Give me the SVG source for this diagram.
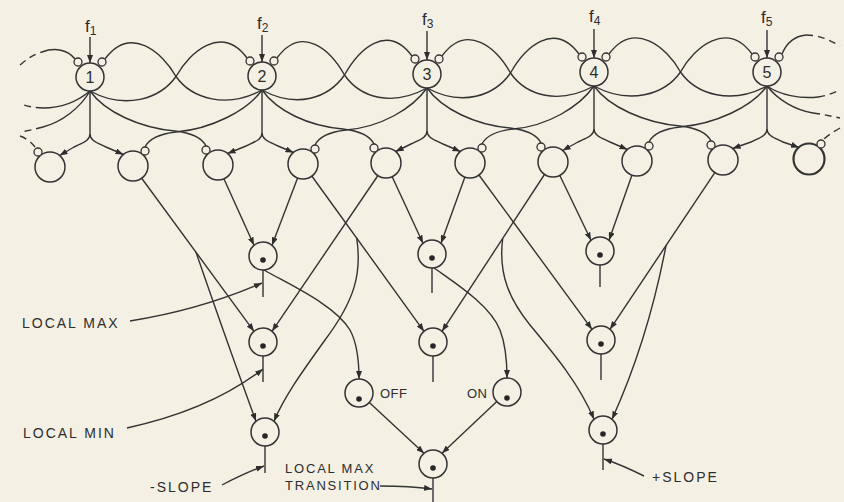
<svg xmlns="http://www.w3.org/2000/svg" width="844" height="502" viewBox="0 0 844 502">
<defs>
<marker id="ah" viewBox="0 0 8 6" refX="8" refY="3" markerWidth="8" markerHeight="6" markerUnits="userSpaceOnUse" orient="auto"><path d="M0,0 L8,3 L0,6 z" fill="#2e2e2e"/></marker>
<style>
.ln{fill:none;stroke:#333;stroke-width:1.4}
.ar{marker-end:url(#ah)}
.da{stroke-dasharray:7 5}
.nd{fill:#f4f0e4;stroke:#333;stroke-width:1.5}
.sm{fill:#f4f0e4;stroke:#333;stroke-width:1.3}
.dot{fill:#262626}
text{font-family:"Liberation Sans",Arial,sans-serif;fill:#2d2d2d}
.num{font-size:16px;text-anchor:middle}
.f{font-size:17px}
.sub{font-size:12px}
.lbl{font-size:14px;letter-spacing:2px}
.lbs{font-size:13px;letter-spacing:1.8px}
.on{font-size:13px;letter-spacing:0.5px}
</style>
</defs>
<rect width="844" height="502" fill="#f4f0e4"/>

<g id="connectors">
<!-- f inputs -->
<path class="ln ar" d="M90,37 V63"/>
<path class="ln ar" d="M262,35 V62"/>
<path class="ln ar" d="M427,31 V60"/>
<path class="ln ar" d="M594,29 V58"/>
<path class="ln ar" d="M767,30 V58"/>

<!-- lateral loops between top nodes -->
<path class="ln" d="M90,91 C125,110 160,99 176,76.5 C190,51.5 222,24 247,58"/>
<path class="ln" d="M262,90 C227,109 192,99 176,76.5 C162,51.5 130,25 105,59"/>
<path class="ln" d="M262,90 C297,109 328.5,98 344.5,75 C358.5,50 387,22 412,56"/>
<path class="ln" d="M427,88 C392,107 360.5,98 344.5,75 C330.5,50 302,24 277,58"/>
<path class="ln" d="M427,88 C462,107 494.5,96 510.5,73 C524.5,48 554,20 579,54"/>
<path class="ln" d="M594,86 C559,105 526.5,96 510.5,73 C496.5,48 467,22 442,56"/>
<path class="ln" d="M594,86 C629,105 664.5,95 680.5,72 C694.5,47 727,20 752,54"/>
<path class="ln" d="M767,86 C732,105 696.5,95 680.5,72 C666.5,47 634,20 609,54"/>

<!-- inhibitory crossings to second row -->
<path class="ln" d="M90,91 C105,112 140,128 175,131 C192,133 202,138 206,146"/>
<path class="ln" d="M262,90 C247,111 211,129 176,132 C159,134 149,139 145,147"/>
<path class="ln" d="M262,90 C277,111 308,126 343,129 C360,131 370,136 374,144"/>
<path class="ln" d="M427,88 C412,109 381,127 346,130 C329,132 319,137 315,145"/>
<path class="ln" d="M427,88 C442,109 475,125 510,128 C527,130 537,135 541,143"/>
<path class="ln" d="M594,86 C579,107 548,126 513,129 C496,131 486,136 482,144"/>
<path class="ln" d="M594,86 C609,107 645,123 680,126 C697,128 707,133 711,141"/>
<path class="ln" d="M767,86 C752,107 715,124 680,127 C663,129 653,134 649,142"/>

<!-- left edge -->
<path class="ln" d="M42,52 C55,47 68,50 75,59"/>
<path class="ln da" d="M20,65 C27,59 34,54 42,52"/>
<path class="ln" d="M90,91 C78,101 62,108 43,108"/>
<path class="ln da" d="M43,108 C34,108 27,106 20,104"/>
<path class="ln" d="M90,91 C80,108 62,122 43,127"/>
<path class="ln da" d="M43,127 C35,129 28,131 20,132"/>
<path class="ln da" d="M20,136 C26,138 31,142 35,147"/>

<!-- right edge -->
<path class="ln" d="M782,54 C787,42 796,36 806,35"/>
<path class="ln da" d="M806,35 C818,35 828,39 840,46"/>
<path class="ln" d="M767,86 C780,95 800,99 818,97"/>
<path class="ln da" d="M818,97 C826,96 833,93 840,90"/>
<path class="ln" d="M767,86 C778,100 795,110 813,113"/>
<path class="ln da" d="M813,113 C822,114 830,116 840,118"/>
<path class="ln da" d="M840,128 C833,132 827,136 823,140"/>

<!-- stems and branches -->
<path class="ln ar" d="M90,91 V134 C90,141 82,143 74,147 L59.6,155.5"/>
<path class="ln ar" d="M90,134 C90,141 98,143 106,147 L123.4,154.5"/>
<path class="ln ar" d="M262,90 V133 C262,140 254,142 246,146 L227.6,153.5"/>
<path class="ln ar" d="M262,133 C262,140 270,142 278,146 L293.4,152.5"/>
<path class="ln ar" d="M427,88 V131 C427,138 419,140 411,144 L395.6,151.5"/>
<path class="ln ar" d="M427,131 C427,138 435,140 443,144 L460.4,151.5"/>
<path class="ln ar" d="M594,86 V129 C594,136 586,138 578,142 L562.6,150.5"/>
<path class="ln ar" d="M594,129 C594,136 602,138 610,142 L627.4,149.5"/>
<path class="ln ar" d="M767,86 V129 C767,136 759,138 751,142 L732.6,148.5"/>
<path class="ln ar" d="M767,129 C767,136 775,138 783,142 L799,147.5"/>

<!-- second row to detectors -->
<path class="ln ar" d="M224,179 L254,245.3"/>
<path class="ln ar" d="M297.6,178 L272,245.3"/>
<path class="ln ar" d="M311.8,176 L424,331.3"/>
<path class="ln ar" d="M356.7,238 C362,273 355,300 325,340 C305,368 285,395 274,421.3"/>
<path class="ln ar" d="M141.5,178 L254,331.3"/>
<path class="ln ar" d="M196,252.2 Q228,345 256,421.3"/>
<path class="ln ar" d="M392.3,177 L423,243.3"/>
<path class="ln ar" d="M377.6,176 L272,331.3"/>
<path class="ln ar" d="M464.9,177 L441,243.3"/>
<path class="ln ar" d="M478.9,175 L592,329.3"/>
<path class="ln ar" d="M559.6,175 L591,240.3"/>
<path class="ln ar" d="M544.8,174 L442,331.3"/>
<path class="ln ar" d="M502.7,238.5 C498,275 510,300 530,325 C555,355 580,385 594,419.3"/>
<path class="ln ar" d="M632,175 L609,240.3"/>
<path class="ln ar" d="M714.8,172.6 L610,329.3"/>
<path class="ln ar" d="M666,245.6 Q648,340 612,419.3"/>

<!-- transition logic -->
<path class="ln ar" d="M264,270 C290,285 335,305 350,330 C357,343 359,360 359,379"/>
<path class="ln ar" d="M434,268 C455,283 490,305 500,330 C505,343 507,360 507,378"/>
<path class="ln ar" d="M369.3,402.5 L424,453.3"/>
<path class="ln ar" d="M496.8,401.6 L442,453.3"/>

<!-- output stubs -->
<path class="ln" d="M263,270 V297"/>
<path class="ln" d="M432,268 V293"/>
<path class="ln" d="M600,265 V287"/>
<path class="ln" d="M263,356 V382"/>
<path class="ln" d="M433,356 V382"/>
<path class="ln" d="M601,354 V380"/>
<path class="ln" d="M265,446 V473"/>
<path class="ln" d="M603,444 V470"/>
<path class="ln" d="M433,478 V502"/>

<!-- label pointers -->
<path class="ln ar" d="M130,321 Q200,310 262,283"/>
<path class="ln ar" d="M127,428 Q210,410 263,369"/>
<path class="ln ar" d="M222,485 Q245,473 264,466"/>
<path class="ln ar" d="M380,486 Q410,486 432,489"/>
<path class="ln ar" d="M644,476 Q622,465 604,459"/>
</g>

<!-- top nodes -->
<g id="n1"><circle class="nd" cx="90" cy="77" r="14"/><circle class="sm" cx="78" cy="62" r="4"/><circle class="sm" cx="102" cy="62" r="4"/><text class="num" x="90" y="83">1</text><text class="f" x="85" y="32">f<tspan class="sub" dy="3">1</tspan></text></g>
<g id="n2"><circle class="nd" cx="262" cy="76" r="14"/><circle class="sm" cx="250" cy="61" r="4"/><circle class="sm" cx="274" cy="61" r="4"/><text class="num" x="262" y="82">2</text><text class="f" x="257" y="29">f<tspan class="sub" dy="3">2</tspan></text></g>
<g id="n3"><circle class="nd" cx="427" cy="74" r="14"/><circle class="sm" cx="415" cy="59" r="4"/><circle class="sm" cx="439" cy="59" r="4"/><text class="num" x="427" y="80">3</text><text class="f" x="422" y="25">f<tspan class="sub" dy="3">3</tspan></text></g>
<g id="n4"><circle class="nd" cx="594" cy="72" r="14"/><circle class="sm" cx="582" cy="57" r="4"/><circle class="sm" cx="606" cy="57" r="4"/><text class="num" x="594" y="78">4</text><text class="f" x="589" y="22">f<tspan class="sub" dy="3">4</tspan></text></g>
<g id="n5"><circle class="nd" cx="767" cy="72" r="14"/><circle class="sm" cx="755" cy="57" r="4"/><circle class="sm" cx="779" cy="57" r="4"/><text class="num" x="767" y="78">5</text><text class="f" x="761" y="23">f<tspan class="sub" dy="3">5</tspan></text></g>

<!-- second row comparators -->
<g id="ca"><circle class="nd" cx="50" cy="167" r="15"/><circle class="sm" cx="38" cy="152" r="4"/></g>
<g id="cb"><circle class="nd" cx="133" cy="166" r="15"/><circle class="sm" cx="145" cy="151" r="4"/></g>
<g id="cc"><circle class="nd" cx="218" cy="165" r="15"/><circle class="sm" cx="206" cy="150" r="4"/></g>
<g id="cd"><circle class="nd" cx="303" cy="164" r="15"/><circle class="sm" cx="315" cy="149" r="4"/></g>
<g id="ce"><circle class="nd" cx="386" cy="163" r="15"/><circle class="sm" cx="374" cy="148" r="4"/></g>
<g id="cf"><circle class="nd" cx="470" cy="163" r="15"/><circle class="sm" cx="482" cy="148" r="4"/></g>
<g id="cg"><circle class="nd" cx="553" cy="162" r="15"/><circle class="sm" cx="541" cy="147" r="4"/></g>
<g id="ch"><circle class="nd" cx="637" cy="161" r="15"/><circle class="sm" cx="649" cy="146" r="4"/></g>
<g id="ci"><circle class="nd" cx="723" cy="160" r="15"/><circle class="sm" cx="711" cy="145" r="4"/></g>
<g id="cj"><circle class="nd" cx="809" cy="159" r="15.5" style="stroke-width:2.2"/><circle class="sm" cx="821" cy="144" r="4"/></g>

<!-- detectors -->
<g id="max2"><circle class="nd" cx="263" cy="256" r="14"/><circle class="dot" cx="263" cy="260" r="2.8"/></g>
<g id="max3"><circle class="nd" cx="432" cy="254" r="14"/><circle class="dot" cx="432" cy="258" r="2.8"/></g>
<g id="max4"><circle class="nd" cx="600" cy="251" r="14"/><circle class="dot" cx="600" cy="255" r="2.8"/></g>
<g id="min2"><circle class="nd" cx="263" cy="342" r="14"/><circle class="dot" cx="263" cy="346" r="2.8"/></g>
<g id="min3"><circle class="nd" cx="433" cy="342" r="14"/><circle class="dot" cx="433" cy="346" r="2.8"/></g>
<g id="min4"><circle class="nd" cx="601" cy="340" r="14"/><circle class="dot" cx="601" cy="344" r="2.8"/></g>
<g id="nslope"><circle class="nd" cx="265" cy="432" r="14"/><circle class="dot" cx="265" cy="436" r="2.8"/></g>
<g id="pslope"><circle class="nd" cx="603" cy="430" r="14"/><circle class="dot" cx="603" cy="434" r="2.8"/></g>
<g id="off"><circle class="nd" cx="359" cy="393" r="14"/><circle class="dot" cx="359" cy="399" r="2.8"/><text class="on" x="380" y="398">OFF</text></g>
<g id="on"><circle class="nd" cx="507" cy="392" r="14"/><circle class="dot" cx="507" cy="398" r="2.8"/><text class="on" x="467" y="398">ON</text></g>
<g id="trans"><circle class="nd" cx="433" cy="464" r="14"/><circle class="dot" cx="433" cy="468" r="2.8"/></g>

<!-- labels -->
<g id="labels">
<text class="lbl" x="22" y="328">LOCAL MAX</text>
<text class="lbl" x="23" y="438">LOCAL MIN</text>
<text class="lbl" x="150" y="492">-SLOPE</text>
<text class="lbs" x="285" y="473">LOCAL MAX</text>
<text class="lbs" x="285" y="490">TRANSITION</text>
<text class="lbl" x="652" y="482">+SLOPE</text>
</g>
</svg>
